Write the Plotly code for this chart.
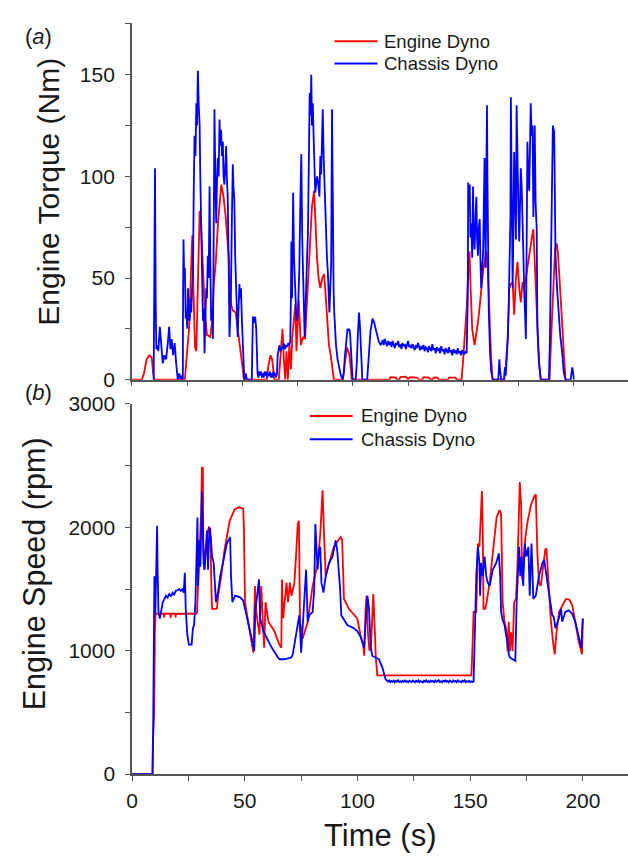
import plotly.graph_objects as go

W, H = 628, 863
FONT = "Liberation Sans, Arial, sans-serif"

# ---------------- data (time s, value) ----------------
engine_torque = [
    (0, 0), (4.5, 0), (5.5, 3), (6.7, 10), (7.9, 12), (9.0, 11), (9.7, 3), (10.2, 0),
    (24.0, 0), (24.7, 8), (25.9, 25), (27.0, 60), (27.4, 71), (28.0, 40), (28.6, 16),
    (29.2, 14), (30.0, 60), (30.7, 83), (31.4, 75), (32.2, 55), (33.0, 35), (34.0, 22),
    (35.5, 21), (36.5, 30), (37.0, 45), (38.0, 58), (39.0, 77), (40.5, 96), (41.5, 90),
    (42.5, 80), (43.4, 65), (44.0, 58), (44.9, 37), (45.7, 34), (47.0, 33), (48.5, 21),
    (50.0, 7), (50.7, 0), (61.0, 0), (62.0, 8), (62.8, 12), (63.5, 10), (64.5, 0),
    (66.5, 0), (67.2, 12), (68.2, 25), (68.8, 10), (69.4, 0), (70.0, 14), (70.6, 0),
    (71.3, 17), (72.0, 5), (72.6, 21), (73.3, 30), (74.0, 37), (74.5, 14), (75.5, 39),
    (76.5, 17), (77.5, 21), (78.4, 20), (79.5, 45), (80.2, 58), (80.9, 72), (81.5, 85),
    (82.5, 93), (83.2, 74), (83.8, 60), (84.5, 50), (85.3, 45), (86.2, 50), (87.0, 52),
    (87.5, 45), (88.0, 37), (88.5, 29), (89.2, 17), (90.0, 12), (90.7, 6), (91.4, 0),
    (95.5, 0), (96.5, 8), (97.3, 16), (98.5, 12), (99.5, 0), (116.5, 0), (117.0, 1.2),
    (119.5, 1.0), (120.0, 0), (121.0, 0), (121.5, 1.3), (124.0, 1.5), (125.0, 0.3),
    (126.0, 1.2), (129.0, 1.0), (130.0, 0), (131.5, 0), (132.0, 1.2), (134.5, 1.0),
    (135.0, 0), (136.0, 0), (136.5, 1.0), (138.0, 1.1), (139.0, 0), (143.0, 0),
    (143.5, 1.0), (146.5, 1.0), (147.0, 0), (149.2, 0), (149.8, 8), (150.7, 20),
    (151.5, 35), (152.3, 55), (152.8, 63), (153.3, 45), (154.0, 25), (155.1, 17),
    (155.9, 22), (156.6, 28), (157.4, 36), (158.1, 45), (158.9, 53), (159.6, 58),
    (160.4, 63), (160.9, 58), (161.5, 40), (162.1, 20), (162.6, 10), (163.3, 0),
    (168.5, 0), (169.3, 8), (170.1, 21), (170.8, 45), (171.5, 47), (172.3, 48),
    (173.0, 32), (173.8, 50), (174.5, 58), (175.3, 45), (176.0, 38), (176.8, 48),
    (177.5, 45), (178.3, 50), (179.0, 55), (179.8, 62), (180.5, 68), (181.3, 72),
    (181.7, 74), (182.3, 58), (182.7, 45), (183.2, 29), (183.5, 20), (184.2, 9),
    (185.0, 0), (189.0, 0), (189.6, 17), (190.2, 35), (190.8, 50), (191.5, 64),
    (192.3, 67), (192.8, 62), (193.5, 50), (194.3, 35), (195.0, 20), (195.7, 8),
    (196.2, 0), (197.0, 0),
]

chassis_torque = [
    (9.9, 0), (10.2, 60), (10.5, 104), (10.8, 40), (11.1, 15), (11.5, 17), (12.0, 14),
    (12.7, 26), (13.3, 15), (14.0, 8), (14.7, 12), (15.5, 10), (16.3, 18), (16.9, 26),
    (17.5, 15), (18.0, 20), (18.7, 12), (19.4, 18), (20.0, 9), (20.5, 3), (20.8, 0),
    (21.5, 3), (22.2, 0), (22.8, 2), (23.1, 0), (23.2, 40), (23.4, 69), (23.7, 50),
    (24.0, 55), (24.4, 30), (24.7, 34), (25.1, 25), (25.4, 45), (25.8, 30), (26.2, 29),
    (26.6, 40), (26.9, 33), (27.3, 45), (27.7, 53), (28.0, 90), (28.4, 120), (28.8, 110),
    (29.2, 136), (29.5, 125), (29.9, 152), (30.3, 135), (30.7, 125), (31.0, 100),
    (31.4, 69), (31.8, 45), (32.2, 29), (32.6, 35), (32.9, 13), (33.3, 30), (33.7, 45),
    (34.0, 40), (34.4, 61), (34.8, 50), (35.2, 95), (35.5, 60), (35.9, 29), (36.3, 35),
    (36.7, 20), (37.0, 60), (37.4, 133), (37.8, 100), (38.2, 77), (38.5, 95), (38.9, 109),
    (39.3, 100), (39.7, 128), (40.0, 115), (40.4, 123), (40.8, 110), (41.2, 117),
    (41.5, 100), (41.9, 96), (42.3, 105), (42.7, 115), (43.0, 100), (43.4, 90),
    (43.8, 60), (44.2, 21), (44.5, 30), (44.9, 45), (45.3, 80), (45.7, 106), (46.0, 95),
    (46.4, 88), (46.8, 60), (47.2, 45), (47.5, 30), (47.9, 21), (48.3, 35), (48.7, 47),
    (49.0, 40), (49.4, 45), (49.8, 30), (50.1, 21), (50.5, 8), (50.9, 0), (51.6, 3),
    (52.0, 0), (54.3, 0), (54.6, 20), (54.8, 31), (55.3, 28), (55.8, 31), (56.3, 25),
    (56.7, 10), (56.9, 3), (57.3, 1), (57.7, 4), (58.1, 2), (58.5, 4), (58.9, 1),
    (59.3, 3), (59.7, 1), (60.1, 4), (60.5, 2), (60.9, 4), (61.3, 1), (61.7, 3),
    (62.1, 2), (62.5, 4), (62.9, 1), (63.3, 3), (63.7, 1), (64.1, 4), (64.5, 2),
    (64.9, 3), (65.3, 1), (65.7, 3), (66.0, 12), (66.3, 15), (66.8, 17), (67.3, 14),
    (67.8, 16), (68.3, 15), (68.8, 18), (69.3, 15), (69.8, 17), (70.3, 16), (70.8, 18),
    (71.3, 17), (71.7, 19), (72.0, 40), (72.2, 68), (72.5, 40), (73.0, 92), (73.4, 60),
    (73.7, 49), (74.1, 35), (74.5, 29), (75.2, 33), (75.8, 55), (76.3, 90), (76.7, 111),
    (77.1, 70), (77.5, 45), (77.9, 30), (78.2, 21), (78.6, 35), (79.0, 45), (79.3, 60),
    (79.7, 72), (80.1, 110), (80.5, 141), (80.9, 130), (81.2, 150), (81.5, 125),
    (81.9, 136), (82.3, 118), (82.7, 101), (83.0, 92), (83.4, 96), (83.8, 100),
    (84.2, 98), (84.5, 92), (84.9, 90), (85.3, 110), (85.7, 101), (86.1, 120),
    (86.4, 133), (86.8, 110), (87.2, 93), (87.5, 80), (87.9, 69), (88.3, 60), (88.7, 53),
    (89.0, 40), (89.4, 33), (89.8, 45), (90.2, 56), (90.6, 133), (90.9, 61), (91.3, 45),
    (91.6, 33), (92.0, 25), (92.4, 17), (93.1, 10), (93.9, 6), (94.6, 2), (95.4, 0),
    (96.0, 4), (96.3, 10), (96.9, 17), (97.3, 22), (97.6, 25), (98.0, 24), (98.4, 25),
    (98.8, 22), (99.1, 17), (99.5, 6), (99.9, 0), (101.3, 0), (101.8, 8), (102.2, 20),
    (102.8, 33), (103.3, 25), (103.8, 10), (104.3, 0), (106.5, 0), (106.9, 8),
    (107.4, 17), (108.0, 24), (108.5, 27), (108.9, 30), (109.3, 29), (109.7, 28),
    (110.1, 26), (110.5, 24), (110.9, 22), (111.2, 21), (111.7, 19), (112.1, 18),
    (112.6, 17), (113.0, 18), (113.5, 19.5), (114.0, 17), (114.5, 20), (115.0, 18),
    (115.5, 16.5), (116.0, 19), (116.5, 17), (117.0, 18.5), (117.5, 16), (118.0, 19),
    (118.5, 17.5), (119.0, 15.5), (119.5, 18), (120.0, 17), (120.5, 19), (121.0, 16),
    (121.5, 17.5), (122.0, 15), (122.5, 18), (123.0, 16.5), (123.5, 17.5), (124.0, 15),
    (124.5, 17), (125.0, 19), (125.5, 16), (126.0, 17), (126.5, 15.5), (127.0, 17.5),
    (127.5, 16), (128.0, 14.5), (128.5, 17), (129.0, 15.5), (129.5, 18), (130.0, 16),
    (130.5, 14.5), (131.0, 16.5), (131.5, 15), (132.0, 17), (132.5, 14), (133.0, 16),
    (133.5, 15.5), (134.0, 13.5), (134.5, 16.5), (135.0, 15), (135.5, 14), (136.0, 17.5),
    (136.5, 14.5), (137.0, 15.5), (137.5, 13), (138.0, 16), (138.5, 14.5), (139.0, 15),
    (139.5, 13), (140.0, 16.5), (140.5, 14), (141.0, 15), (141.5, 12.5), (142.0, 15.5),
    (142.5, 14), (143.0, 13), (143.5, 16), (144.0, 13.5), (144.5, 14.5), (145.0, 12),
    (145.5, 15), (146.0, 13.5), (146.5, 14), (147.0, 12.5), (147.5, 15.5), (148.0, 13),
    (148.5, 14), (149.0, 12), (149.5, 14.5), (150.0, 13.5), (150.5, 12.5), (151.0, 14),
    (151.5, 13), (152.0, 40), (152.2, 97), (152.5, 85), (152.9, 96), (153.2, 70),
    (153.6, 77), (154.0, 60), (154.4, 95), (154.7, 70), (155.1, 64), (155.5, 80),
    (155.9, 90), (156.2, 70), (156.6, 61), (157.0, 75), (157.4, 79), (157.7, 60),
    (158.1, 45), (158.5, 55), (158.9, 61), (159.2, 80), (159.6, 109), (159.9, 70),
    (160.1, 55), (160.4, 100), (160.7, 135), (160.9, 100), (161.1, 77), (161.5, 34),
    (162.1, 13), (162.6, 4), (163.3, 0), (165.8, 0), (166.1, 6), (166.3, 10), (166.6, 5),
    (167.1, 0), (168.4, 0), (168.8, 6), (169.2, 2), (169.6, 8), (170.1, 20), (170.5, 35),
    (170.8, 53), (171.3, 80), (171.5, 139), (171.9, 100), (172.3, 45), (172.6, 70),
    (173.0, 112), (173.4, 90), (173.8, 69), (174.1, 135), (174.5, 101), (174.9, 85),
    (175.3, 68), (175.6, 90), (176.0, 104), (176.4, 95), (176.8, 82), (177.2, 60),
    (177.5, 45), (177.9, 30), (178.3, 20), (178.6, 60), (179.0, 117), (179.4, 100),
    (179.8, 93), (180.1, 110), (180.5, 136), (180.9, 120), (181.3, 125), (181.7, 80),
    (182.0, 100), (182.3, 125), (182.7, 87), (183.2, 74), (183.5, 26), (184.2, 9),
    (185.0, 0), (188.7, 0), (189.1, 15), (189.5, 45), (190.0, 90), (190.5, 125),
    (191.1, 122), (191.4, 90), (191.7, 61), (192.4, 45), (193.2, 29), (193.9, 21),
    (194.7, 13.5), (195.4, 4), (196.2, 0), (198.6, 0), (198.9, 3), (199.3, 6),
    (199.6, 4), (200.0, 0),
]

engine_speed = [
    (0, 0), (9.0, 0), (9.2, 250), (9.5, 470), (9.8, 480), (10.1, 1150), (10.4, 1300),
    (14.0, 1300), (14.2, 1270), (14.4, 1300), (17.0, 1300), (17.1, 1265), (17.3, 1300),
    (19.2, 1300), (19.3, 1270), (19.5, 1300), (28.5, 1300), (28.8, 1310), (29.4, 1600),
    (30.0, 1840), (30.6, 2100), (31.0, 2489), (31.4, 2480), (31.6, 1900), (32.0, 1657),
    (32.5, 1800), (33.0, 1895), (33.5, 1948), (34.0, 2000), (34.7, 1990), (35.2, 1500),
    (35.5, 1340), (37.6, 1340), (38.2, 1446), (39.5, 1600), (41.0, 1815), (43.3, 2053),
    (45.5, 2145), (47.5, 2164), (49.3, 2150), (49.6, 2000), (50.1, 1393), (51.5, 1235),
    (53.8, 984), (54.5, 1525), (55.2, 1300), (56.5, 1130), (57.3, 1525), (58.0, 1235),
    (58.6, 1024), (59.2, 1393), (60.5, 1235), (63.2, 1156), (65.3, 1050), (66.2, 1024),
    (66.5, 1578), (67.0, 1261), (67.8, 1446), (68.5, 1552), (69.2, 1393), (70.0, 1552),
    (70.7, 1446), (72.0, 1552), (72.8, 1789), (73.5, 2027), (74.0, 2053), (74.5, 1235),
    (75.7, 1100), (77.9, 1235), (80.1, 1525), (82.3, 1700), (83.5, 1950), (84.5, 2300),
    (85.2, 1921), (85.9, 1604), (86.6, 1657), (89.5, 1842), (92.5, 1921), (93.2, 1895),
    (94.0, 1420), (96.2, 1340), (99.9, 1261), (101.3, 1130), (102.5, 1050), (103.0, 960),
    (103.5, 1300), (104.0, 1446), (104.6, 1150), (105.3, 1000), (106.0, 1050),
    (106.5, 1300), (107.0, 1459), (107.6, 1200), (108.1, 950), (108.8, 800),
    (150.5, 800), (150.8, 918), (151.5, 1314), (152.7, 1314), (153.4, 1868),
    (154.1, 1842), (155.2, 2295), (155.6, 1921), (155.9, 1340), (156.6, 1340),
    (157.3, 1393), (158.8, 1578), (160.2, 1842), (161.7, 2080), (163.0, 2140),
    (163.7, 2106), (164.4, 1393), (165.2, 1235), (165.9, 1182), (166.6, 997),
    (167.1, 1235), (167.6, 997), (168.1, 1150), (168.8, 997), (169.5, 1393),
    (170.3, 1420), (171.0, 1710), (172.0, 2368), (172.6, 2185), (173.0, 1578),
    (173.6, 1710), (174.5, 1921), (175.5, 2053), (177.0, 2185), (178.5, 2255),
    (179.1, 2268), (179.8, 1789), (180.5, 1552), (181.3, 1525), (182.3, 1657),
    (183.3, 1820), (183.8, 1830), (184.7, 1525), (185.7, 1261), (186.7, 1077),
    (187.5, 971), (188.2, 1130), (189.4, 1314), (190.9, 1367), (192.5, 1420),
    (194.0, 1415), (195.3, 1367), (196.6, 1235), (198.1, 1077), (199.6, 971),
    (200.0, 1261),
]

chassis_speed = [
    (0, 0), (9.1, 0), (9.3, 260), (9.6, 900), (9.9, 1604), (10.3, 1300), (10.6, 1700),
    (11.1, 2013), (11.3, 1684), (11.7, 1314), (12.3, 1261), (12.9, 1340), (13.6, 1393),
    (14.4, 1420), (15.0, 1446), (15.7, 1430), (16.5, 1460), (17.3, 1440), (18.0, 1470),
    (18.7, 1455), (19.4, 1486), (20.1, 1490), (20.9, 1499), (21.6, 1485), (22.3, 1499),
    (22.9, 1470), (23.4, 1631), (23.8, 1340), (24.5, 1130), (25.2, 1050), (26.4, 1050),
    (27.0, 1182), (27.5, 1209), (28.1, 1393), (28.6, 1842), (29.0, 2080), (29.3, 1525),
    (29.9, 1895), (30.3, 1680), (30.7, 2185), (31.0, 2291), (31.3, 2053), (31.7, 1710),
    (32.2, 1657), (32.8, 1921), (33.2, 1974), (33.7, 1657), (34.3, 2000), (34.9, 1921),
    (35.5, 1763), (36.2, 1710), (36.6, 1552), (37.2, 1393), (38.1, 1472), (39.1, 1604),
    (40.6, 1736), (42.0, 1868), (43.5, 1921), (43.9, 1604), (44.5, 1393), (45.7, 1446),
    (47.9, 1433), (49.3, 1407), (50.1, 1340), (51.5, 1235), (53.0, 1103), (54.2, 998),
    (54.7, 1340), (55.5, 1446), (56.3, 1578), (56.8, 1261), (58.3, 1156), (59.8, 1103),
    (62.0, 1024), (64.7, 945), (65.4, 931), (67.6, 931), (70.6, 945), (71.3, 971),
    (72.8, 1130), (73.5, 1235), (74.2, 1288), (75.0, 984), (75.7, 1182), (76.4, 1446),
    (77.2, 1657), (77.9, 1235), (78.6, 1288), (80.1, 1314), (80.8, 1499), (81.3, 2027),
    (81.8, 1789), (82.3, 1657), (83.0, 1815), (83.5, 1842), (84.0, 1552), (84.9, 1472),
    (85.9, 1604), (87.4, 1710), (88.9, 1763), (90.3, 1895), (91.0, 1815), (92.3, 1499),
    (92.8, 1288), (94.0, 1248), (95.5, 1209), (96.9, 1195), (98.4, 1182), (99.9, 1160),
    (101.3, 1116), (102.9, 1024), (103.7, 1235), (104.4, 1446), (105.1, 1340),
    (105.9, 1024), (106.6, 958), (108.1, 945), (109.5, 931), (111.0, 866), (112.4, 773),
    (113.0, 757), (113.5, 750), (114.0, 760), (114.5, 746), (115.0, 755), (115.5, 748),
    (116.0, 758), (116.5, 744), (117.0, 756), (117.5, 750), (118.0, 761), (118.5, 747),
    (119.0, 753), (119.5, 745), (120.0, 757), (120.5, 749), (121.0, 760), (121.5, 748),
    (122.0, 754), (122.5, 744), (123.0, 758), (123.5, 751), (124.0, 747), (124.5, 759),
    (125.0, 750), (125.5, 745), (126.0, 756), (126.5, 749), (127.0, 760), (127.5, 746),
    (128.0, 754), (128.5, 750), (129.0, 743), (129.5, 757), (130.0, 749), (130.5, 761),
    (131.0, 747), (131.5, 753), (132.0, 745), (132.5, 758), (133.0, 750), (133.5, 755),
    (134.0, 744), (134.5, 759), (135.0, 748), (135.5, 754), (136.0, 762), (136.5, 747),
    (137.0, 752), (137.5, 745), (138.0, 757), (138.5, 750), (139.0, 760), (139.5, 748),
    (140.0, 755), (140.5, 744), (141.0, 758), (141.5, 751), (142.0, 746), (142.5, 759),
    (143.0, 750), (143.5, 755), (144.0, 745), (144.5, 760), (145.0, 749), (145.5, 753),
    (146.0, 744), (146.5, 757), (147.0, 750), (147.5, 761), (148.0, 746), (148.5, 754),
    (149.0, 748), (149.5, 756), (150.0, 745), (150.5, 752), (151.0, 747), (151.5, 750),
    (152.0, 1130), (152.7, 1604), (153.4, 1842), (154.1, 1710), (154.4, 1446),
    (154.9, 1710), (155.6, 1604), (156.4, 1763), (157.1, 1604), (157.8, 1552),
    (158.6, 1525), (159.3, 1604), (160.0, 1657), (161.5, 1710), (162.7, 1789),
    (163.3, 1604), (163.7, 1314), (164.4, 1250), (165.2, 1209), (165.9, 1130),
    (166.6, 1077), (167.1, 971), (167.6, 945), (168.8, 931), (170.0, 918), (170.6, 1393),
    (171.0, 1604), (171.7, 1842), (172.2, 1604), (172.8, 1763), (173.5, 1525),
    (174.2, 1868), (174.9, 1763), (175.8, 1842), (176.4, 1446), (177.2, 1868),
    (178.0, 1420), (179.1, 1446), (180.5, 1604), (182.0, 1710), (182.8, 1736),
    (183.8, 1604), (184.9, 1446), (186.4, 1288), (187.1, 1275), (187.8, 1182),
    (189.3, 1261), (190.3, 1340), (190.8, 1235), (192.2, 1314), (193.7, 1327),
    (195.2, 1300), (196.6, 1235), (198.1, 1130), (199.3, 1024), (199.9, 1261),
]

series_names = ["Engine Dyno", "Chassis Dyno"]
torque_ticks = [0, 50, 100, 150]
speed_ticks = [0, 1000, 2000, 3000]
time_ticks = [0, 50, 100, 150, 200]

RED = "rgb(255,0,0)"
BLUE = "rgb(0,0,255)"
AXC = "#555555"
TXT = "#1a1a1a"


def split(pairs):
    return [p[0] for p in pairs], [p[1] for p in pairs]


def px(x):
    return x / W


def py(y):
    return 1 - y / H


fig = go.Figure()
for pairs, name, color, xa, ya in [
    (engine_torque, series_names[0], RED, "x", "y"),
    (chassis_torque, series_names[1], BLUE, "x", "y"),
    (engine_speed, series_names[0], RED, "x2", "y2"),
    (chassis_speed, series_names[1], BLUE, "x2", "y2"),
]:
    t, v = split(pairs)
    fig.add_trace(go.Scatter(x=t, y=v, mode="lines", name=name, showlegend=False,
                             line=dict(color=color, width=1.8),
                             xaxis=xa, yaxis=ya))

common = dict(showline=True, linecolor=AXC, linewidth=1.5, ticks="outside",
              ticklen=5, tickwidth=1.2, tickcolor=AXC, showgrid=False,
              zeroline=False, tickfont=dict(family=FONT, size=21, color=TXT))

fig.update_layout(
    width=W, height=H, margin=dict(l=0, r=0, t=0, b=0),
    paper_bgcolor="white", plot_bgcolor="white",
    font=dict(family=FONT, color=TXT),
    showlegend=False,
    xaxis=dict(domain=[px(127), 1], range=[0, 224.5], anchor="y",
               tick0=0, dtick=25, showticklabels=False, **common),
    yaxis=dict(domain=[py(377.7), py(11.7)], range=[0, 175.3], anchor="x",
               tickvals=torque_ticks, ticklabelstandoff=6,
               minor=dict(dtick=25, tick0=0, ticks="outside", ticklen=5,
                          tickcolor=AXC, tickwidth=1.2, showgrid=False),
               **common),
    xaxis2=dict(domain=[px(127.3), 1], range=[0, 220], anchor="y2",
                tickvals=time_ticks, ticklabelstandoff=2,
                minor=dict(dtick=25, tick0=0, ticks="outside", ticklen=5,
                           tickcolor=AXC, tickwidth=1.2, showgrid=False),
                **common),
    yaxis2=dict(domain=[py(783), py(402.7)], range=[0, 3000], anchor="x2",
                tickvals=speed_ticks, ticklabelstandoff=6,
                minor=dict(dtick=500, tick0=0, ticks="outside", ticklen=5,
                           tickcolor=AXC, tickwidth=1.2, showgrid=False),
                **common),
)

# legend keys (line samples + labels), one block per panel
legend_blocks = [
    (331.7, 375.0, 380.0, [30.0, 53.0]),
    (306.7, 350.0, 356.0, [415.0, 439.0]),
]
shapes = []
annotations = []
for x0, x1, xt, rows in legend_blocks:
    for name, color, yrow in zip(series_names, [RED, BLUE], rows):
        shapes.append(dict(type="line", xref="paper", yref="paper",
                           x0=px(x0), x1=px(x1), y0=py(yrow), y1=py(yrow),
                           line=dict(color=color, width=2)))
        annotations.append(dict(text=name, x=px(xt), y=py(yrow), xanchor="left",
                                yanchor="middle",
                                font=dict(family=FONT, size=18.5, color=TXT)))

annotations += [
    dict(text="Engine Torque (Nm)", x=px(42), y=py(185), textangle=-90,
         xanchor="center", yanchor="middle",
         font=dict(family=FONT, size=30, color=TXT)),
    dict(text="Engine Speed (rpm)", x=px(29), y=py(577), textangle=-90,
         xanchor="center", yanchor="middle",
         font=dict(family=FONT, size=30.5, color=TXT)),
    dict(text="Time (s)", x=px(378), y=py(846), xanchor="center", yanchor="middle",
         font=dict(family=FONT, size=31, color=TXT)),
    dict(text="(<i>a</i>)", x=px(33), y=py(25), xanchor="center", yanchor="middle",
         font=dict(family=FONT, size=22, color=TXT)),
    dict(text="(<i>b</i>)", x=px(33), y=py(391), xanchor="center", yanchor="middle",
         font=dict(family=FONT, size=22, color=TXT)),
]
for a in annotations:
    a.update(xref="paper", yref="paper", showarrow=False)
fig.update_layout(shapes=shapes, annotations=annotations)

fig.write_html("out.html",
               config={"displayModeBar": False},
               post_script="document.body.style.margin='0';"
                           "document.body.style.overflow='hidden';")
